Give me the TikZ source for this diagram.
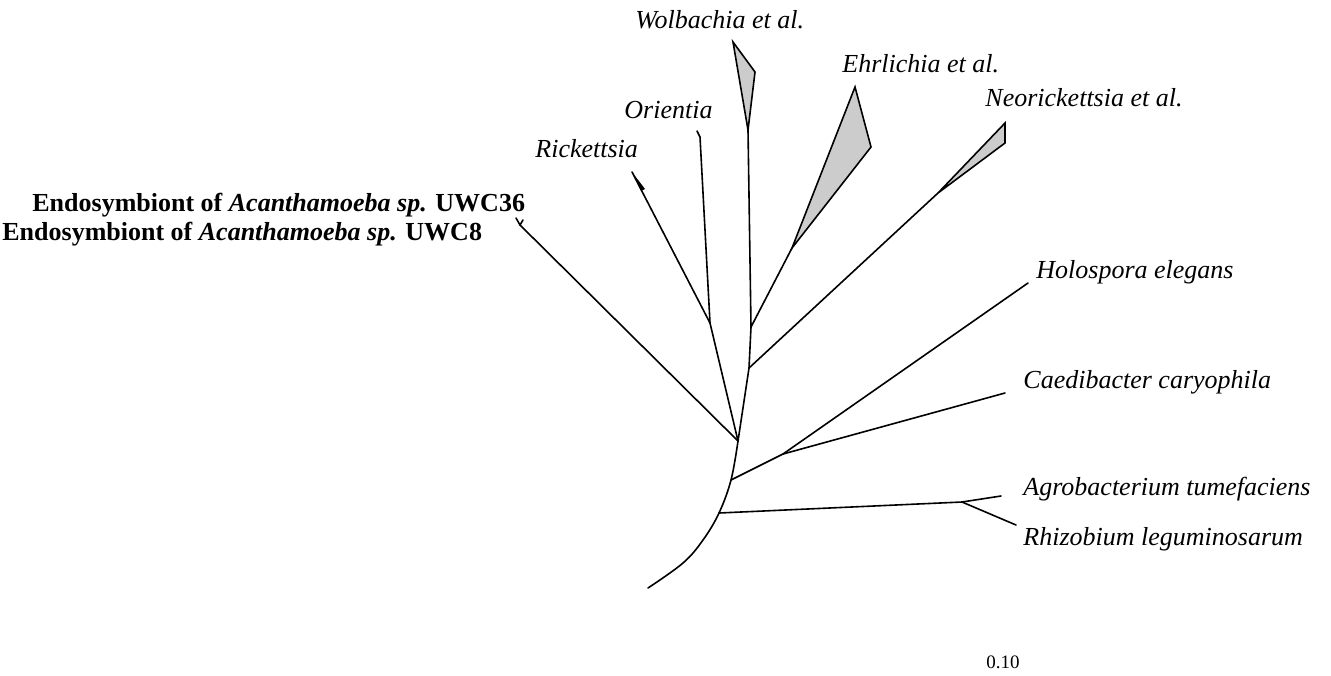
\documentclass[tikz,border=0pt]{standalone}
\usepackage{fontspec}
\setmainfont{Liberation Serif}
\begin{document}
\begin{tikzpicture}[x=0.5pt,y=-0.5pt,
  br/.style={line width=0.8pt, line join=round, line cap=round},
  clade/.style={draw, line width=0.8pt, fill=black!20, line join=miter},
  lab/.style={anchor=base west, inner sep=0pt, font=\fontsize{13}{15}\selectfont\itshape},
  blab/.style={anchor=base west, inner sep=0pt, font=\fontsize{13}{15}\selectfont\bfseries},
  scl/.style={anchor=base, inner sep=0pt, font=\fontsize{9.5}{11}\selectfont}]
\useasboundingbox (0,0) rectangle (1331,675);

% internal nodes
\coordinate (root) at (648,588);
\coordinate (G) at (719,513);
\coordinate (H) at (731,480);
\coordinate (A) at (738,441);
\coordinate (R) at (710,323);
\coordinate (N) at (749,368);
\coordinate (W) at (751,327);
\coordinate (J) at (783,454);
\coordinate (K) at (962,502);
\coordinate (F) at (520,225);

% tips
\coordinate (tRick) at (632,172);
\coordinate (tOri) at (697,131);
\coordinate (tWolB) at (748,130);
\coordinate (tEhrB) at (792,248);
\coordinate (tNeoB) at (938,193);
\coordinate (tHolo) at (1028,283);
\coordinate (tCaed) at (1005,393);
\coordinate (tAgro) at (1001,496);
\coordinate (tRhiz) at (1016,525);

% root arc
\draw[br] plot[smooth, tension=0.6] coordinates {(root) (683,563) (703,540) (G) (H) (A)};

% branches
\draw[br] (A) -- (F);
\draw[br] (F) .. controls (518,222) .. (516,218);
\draw[br] (F) -- (523,220);
\draw[br] (A) -- (R);
\draw[br] (R) -- (tRick);
\fill (tRick) -- (645,189) -- (641,191) -- cycle;
\draw[br] (R) -- (700,137) -- (tOri);
\draw[br] (A) -- (N) -- (W) -- (tWolB);
\draw[br] (W) -- (tEhrB);
\draw[br] (N) -- (tNeoB);
\draw[br] (H) -- (J);
\draw[br] (J) -- (tHolo);
\draw[br] (J) -- (tCaed);
\draw[br] (G) -- (K);
\draw[br] (K) -- (tAgro);
\draw[br] (K) -- (tRhiz);

% collapsed clades
\draw[clade] (tWolB) -- (733,42) -- (755,72) -- cycle;
\draw[clade] (tEhrB) -- (855,87) -- (871,147) -- cycle;
\draw[clade] (tNeoB) -- (1005,123) -- (1005,143) -- cycle;

% labels
\node[lab] (lWol) at (635,28) {Wolbachia et al.};
\node[lab] (lEhr) at (842,72) {Ehrlichia et al.};
\node[lab] (lNeo) at (985,106) {Neorickettsia et al.};
\node[lab] (lOri) at (624,118) {Orientia};
\node[lab] (lRic) at (535,157) {Rickettsia};
\node[lab] (lHol) at (1036,278) {Holospora elegans};
\node[lab] (lCae) at (1023,388) {Caedibacter caryophila};
\node[lab] (lAgr) at (1023,495) {Agrobacterium tumefaciens};
\node[lab] (lRhi) at (1023,545) {Rhizobium leguminosarum};
\node[blab] (lE36) at (32,211) {Endosymbiont of \textit{Acanthamoeba sp.} UWC36};
\node[blab] (lE8) at (2,240) {Endosymbiont of \textit{Acanthamoeba sp.} UWC8};
\node[scl] (lScale) at (1003,668) {0.10};
\end{tikzpicture}
\end{document}
